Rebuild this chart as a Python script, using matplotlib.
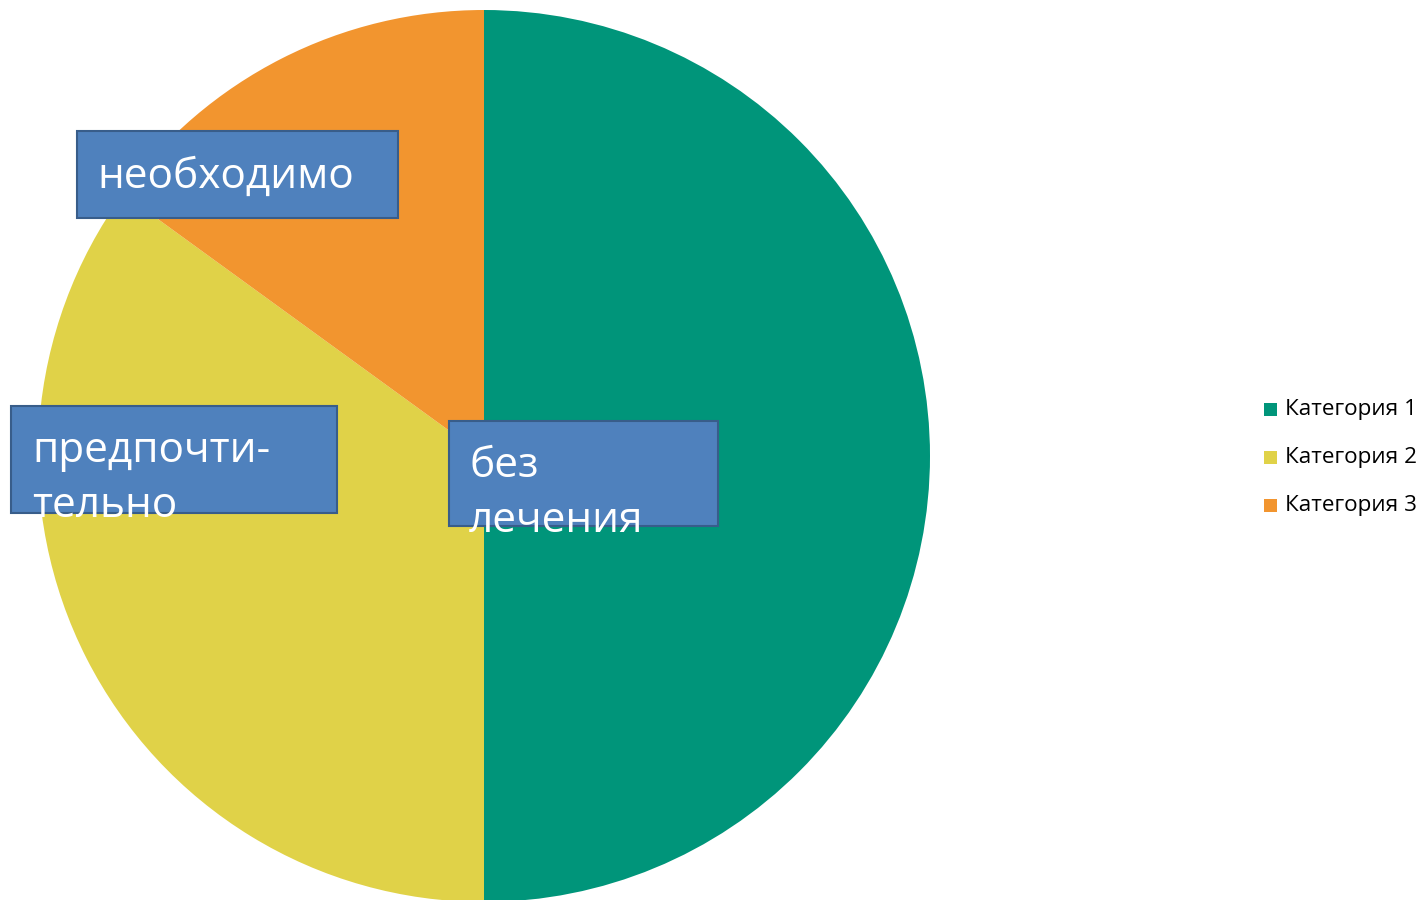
import matplotlib
matplotlib.use("Agg")
import matplotlib.pyplot as plt
from matplotlib.patches import Rectangle

categories = ["Категория 1", "Категория 2", "Категория 3"]
values = [50, 35, 15]
colors = ["#00957A", "#E0D248", "#F2952F"]
box_labels = ["без\nлечения", "предпочти-\nтельно", "необходимо"]

W, H = 1422, 900
fig = plt.figure(figsize=(W / 100, H / 100), dpi=100)
plt.rcParams['font.family'] = ['Open Sans', 'DejaVu Sans']

cx, cy, r = 484, 456, 446
ax = fig.add_axes([(cx - r) / W, (H - cy - r) / H, 2 * r / W, 2 * r / H])
wedges, _ = ax.pie(values, colors=colors, startangle=90, counterclock=False,
                   radius=1, wedgeprops=dict(linewidth=0))
ax.set_xlim(-1, 1)
ax.set_ylim(-1, 1)
ax.set_aspect('equal')
ax.axis('off')

# label boxes (pixel coords from top-left): x0, y0, x1, y1, text x, first baseline
boxes = [
    (449, 421, 718, 526, 469, 477),
    (11, 406, 337, 513, 32, 462),
    (77, 131, 398, 218, 97, 188),
]
for (x0, y0, x1, y1, tx, ty), lab in zip(boxes, box_labels):
    rect = Rectangle((x0 / W, 1 - y1 / H), (x1 - x0) / W, (y1 - y0) / H,
                     transform=fig.transFigure, facecolor="#4F81BD",
                     edgecolor="#385D8A", linewidth=1.5, zorder=5)
    fig.add_artist(rect)
    lines = lab.split("\n")
    for i, line in enumerate(lines):
        fig.text(tx / W, 1 - (ty + i * 55) / H, line, color="white",
                 fontsize=30.5, ha="left", va="baseline", zorder=6)

# legend
for i, (cat, col) in enumerate(zip(categories, colors)):
    yc = 409 + i * 48
    fig.add_artist(Rectangle((1264 / W, 1 - (yc + 7) / H), 13 / W, 13 / H,
                             transform=fig.transFigure, facecolor=col,
                             edgecolor="none"))
    fig.text(1285 / W, 1 - yc / H, cat, fontsize=16.2, ha="left",
             va="center", color="black")

fig.savefig("out.png", dpi=100)
